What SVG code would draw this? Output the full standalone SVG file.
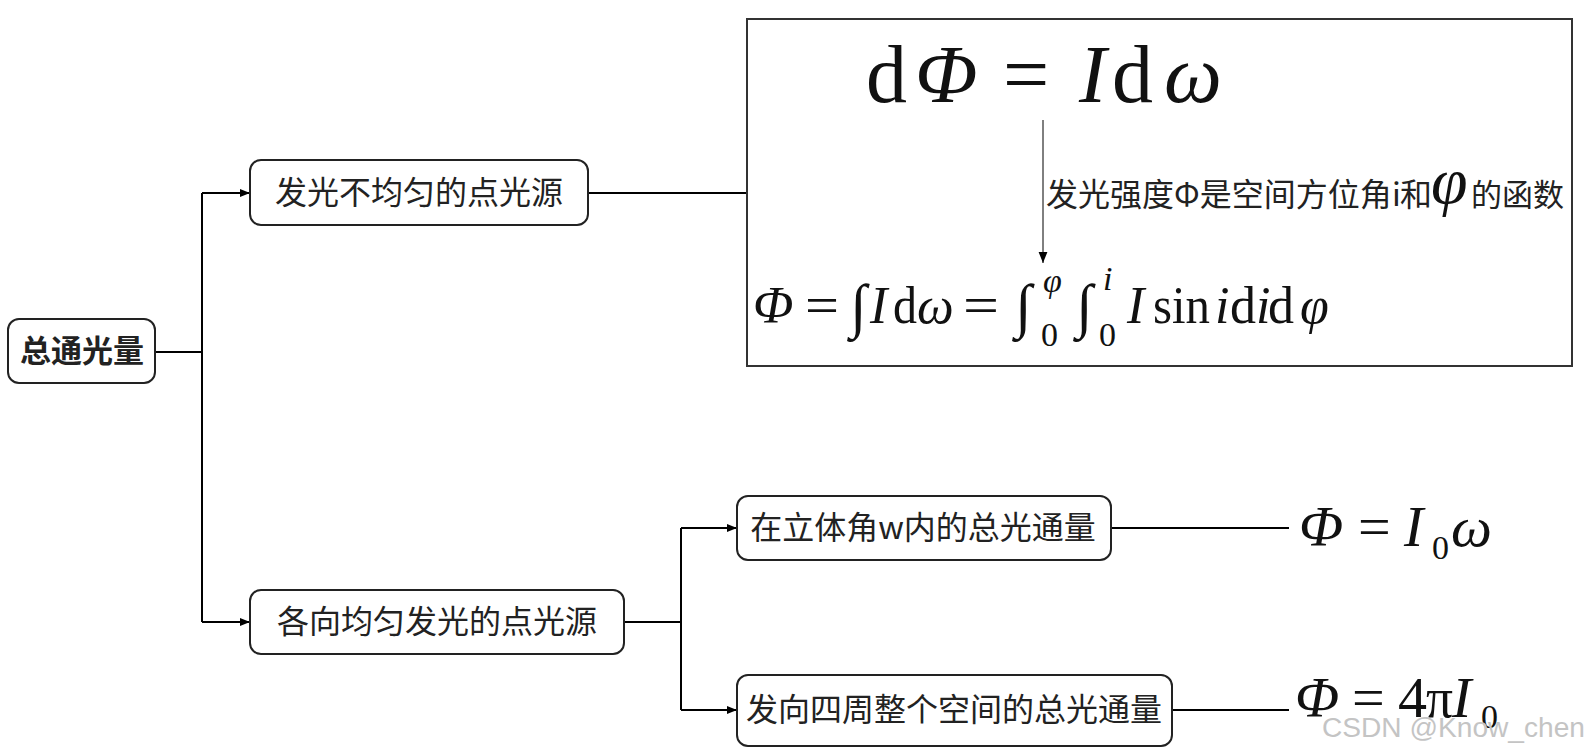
<svg xmlns="http://www.w3.org/2000/svg" width="1590" height="756" viewBox="0 0 1590 756">
<defs>
<style>
.box{fill:#fff;stroke:#222;stroke-width:2}
.lbl{font-family:"Noto Sans CJK SC","Noto Sans",sans-serif;font-size:32px;fill:#222;text-anchor:middle}
.root{font-weight:bold;font-size:31px}
.con{fill:none;stroke:#000;stroke-width:2}
.thin{fill:none;stroke:#000;stroke-width:1}
.m{font-family:"Liberation Serif","Times New Roman",serif;fill:#111}
.it{font-style:italic}
.cap{font-family:"Noto Sans CJK SC","Noto Sans",sans-serif;font-size:32px;fill:#222}
</style>
<marker id="ah" viewBox="0 0 10 10" refX="10" refY="5" markerWidth="10" markerHeight="10" markerUnits="userSpaceOnUse" orient="auto">
<path d="M0,1 L10,5 L0,9 Z" fill="#000"/>
</marker>
<marker id="ahs" viewBox="0 0 10 10" refX="10" refY="5" markerWidth="11" markerHeight="11" markerUnits="userSpaceOnUse" orient="auto">
<path d="M0,1 L10,5 L0,9 Z" fill="#000"/>
</marker>
</defs>

<g id="connectors">
<path class="con" d="M155,352 H202"/>
<path class="con" d="M202,193 V622"/>
<path class="con" d="M202,193 H250" marker-end="url(#ah)"/>
<path class="con" d="M202,622 H250" marker-end="url(#ah)"/>
<path class="con" d="M588,193 H747"/>
<path class="con" d="M624,622 H681"/>
<path class="con" d="M681,528 V710"/>
<path class="con" d="M681,528 H737" marker-end="url(#ah)"/>
<path class="con" d="M681,710 H737" marker-end="url(#ah)"/>
<path class="con" d="M1111,528 H1289"/>
<path class="con" d="M1172,710 H1289"/>
</g>

<g id="node-root">
<rect class="box" x="8" y="319" width="147" height="64" rx="11"/>
<text class="lbl root" x="82" y="362">总通光量</text>
</g>

<g id="node-nonuniform">
<rect class="box" x="250" y="160" width="338" height="65" rx="11"/>
<text class="lbl" x="419" y="204">发光不均匀的点光源</text>
</g>

<g id="node-uniform">
<rect class="box" x="250" y="590" width="374" height="64" rx="11"/>
<text class="lbl" x="437" y="633">各向均匀发光的点光源</text>
</g>

<g id="node-solidangle">
<rect class="box" x="737" y="496" width="374" height="64" rx="11"/>
<text class="lbl" x="923" y="539">在立体角w内的总光通量</text>
</g>

<g id="node-whole">
<rect class="box" x="737" y="675" width="435" height="71" rx="11"/>
<text class="lbl" x="954" y="721">发向四周整个空间的总光通量</text>
</g>

<g id="node-formula-box">
<rect x="747" y="19" width="825" height="347" fill="#fff" stroke="#333" stroke-width="2"/>
<text class="m" font-size="82" y="102"><tspan x="866">d</tspan><tspan class="it" x="915">Φ</tspan><tspan x="1003">=</tspan><tspan class="it" x="1079">I</tspan><tspan x="1112">d</tspan><tspan class="it" x="1164">ω</tspan></text>
<path class="thin" d="M1043,120 V263" marker-end="url(#ahs)"/>
<text class="cap" x="1046" y="206">发光强度Φ是空间方位角<tspan x="1392">i</tspan><tspan x="1400">和</tspan><tspan class="m it" font-size="66" x="1431" y="203">φ</tspan><tspan x="1471" y="206" font-size="31">的函数</tspan></text>
<g class="m" font-size="52">
<text class="it" x="753" y="323" font-size="53">Φ</text>
<text x="805" y="323" textLength="34" lengthAdjust="spacingAndGlyphs">=</text>
<text class="it" x="850" y="326" font-size="60">∫</text>
<text class="it" x="870" y="323">I</text>
<text x="893" y="323" textLength="24" lengthAdjust="spacingAndGlyphs">d</text>
<text class="it" x="917" y="323">ω</text>
<text x="963" y="323" textLength="36" lengthAdjust="spacingAndGlyphs">=</text>
<text class="it" x="1015" y="326" font-size="60">∫</text>
<text class="it" x="1043" y="292" font-size="34">φ</text>
<text x="1041" y="346" font-size="34">0</text>
<text class="it" x="1076" y="326" font-size="60">∫</text>
<text class="it" x="1103" y="290" font-size="34">i</text>
<text x="1099" y="346" font-size="34">0</text>
<text class="it" x="1127" y="323">I</text>
<text x="1153" y="323" textLength="57" lengthAdjust="spacingAndGlyphs">sin</text>
<text class="it" x="1215" y="323">i</text>
<text x="1230" y="323">d</text>
<text class="it" x="1256" y="323">i</text>
<text x="1268" y="323">d</text>
<text class="it" x="1300" y="323">φ</text>
</g>
</g>

<g id="node-formula-solidangle" class="m">
<text class="it" x="1299" y="546" font-size="58">Φ</text>
<text x="1358" y="546" font-size="58">=</text>
<text class="it" x="1404" y="546" font-size="58">I</text>
<text x="1432" y="559" font-size="34">0</text>
<text class="it" x="1451" y="546" font-size="58">ω</text>
</g>

<g id="node-formula-whole" class="m">
<text class="it" x="1295" y="717" font-size="58">Φ</text>
<text x="1352" y="717" font-size="58">=</text>
<text x="1398" y="717" font-size="58">4</text>
<text x="1426" y="717" font-size="58" textLength="27" lengthAdjust="spacingAndGlyphs">π</text>
<text class="it" x="1452" y="717" font-size="58">I</text>
<text x="1481" y="728" font-size="34">0</text>
</g>

<g id="watermark">
<text x="1322" y="737" font-family="Liberation Sans, Arial, sans-serif" font-size="27" fill="#c4c4c4" textLength="263" lengthAdjust="spacingAndGlyphs">CSDN @Know_chen</text>
</g>
</svg>
